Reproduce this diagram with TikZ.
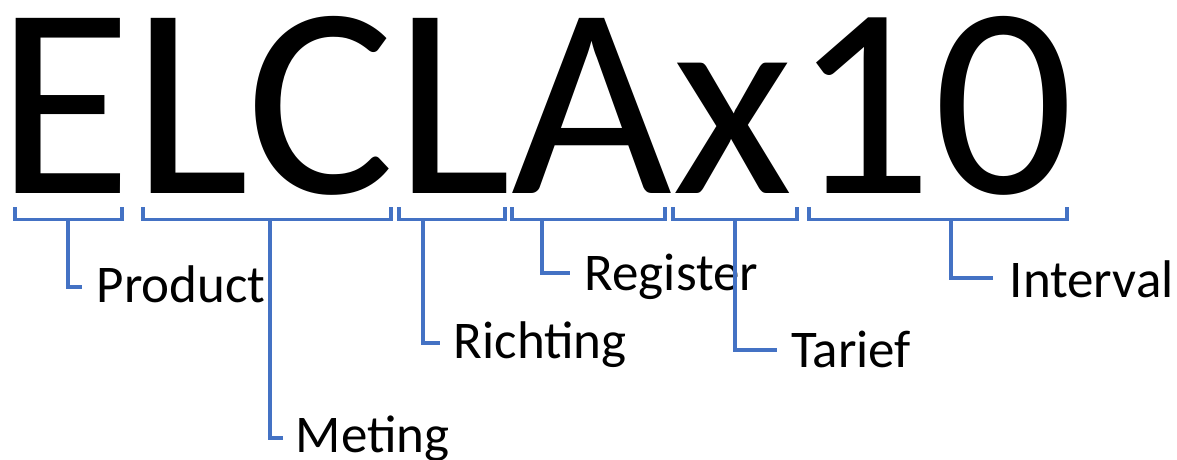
\documentclass[tikz,border=0pt]{standalone}
\usepackage{graphicx}
\usepackage{fontspec}
\setmainfont{Carlito}
\definecolor{brk}{RGB}{68,114,196}
\begin{document}
\begin{tikzpicture}[x=1pt,y=-1pt,
  brline/.style={draw=brk,line width=3.2pt,line cap=butt,line join=miter},
  lbl/.style={anchor=base west,inner sep=0pt,font=\fontsize{53}{53}\selectfont},
  big/.style={anchor=base west,inner sep=0pt,font=\fontsize{273}{273}\selectfont}]
\useasboundingbox (0,0) rectangle (1177,459);
\node[big] (code) at (-3.3,193) {\scalebox{1.018}[1]{ELCLAx10}};
% brackets
\foreach \a/\b in {15/122,143/391,399/505,512/665,673/797,809/1067}{
  \draw[brline] (\a,207) -- (\a,219.5) -- (\b,219.5) -- (\b,207);
}
% stem tops
\coordinate (sP) at (68,219.5);
\coordinate (sM) at (270,219.5);
\coordinate (sR) at (423,219.5);
\coordinate (sG) at (542,219.5);
\coordinate (sT) at (735,219.5);
\coordinate (sI) at (951,219.5);
% stem ends
\coordinate (eP) at (82,287);
\coordinate (eM) at (283,438);
\coordinate (eR) at (440,343);
\coordinate (eG) at (570,273);
\coordinate (eT) at (777,350);
\coordinate (eI) at (993,278);
% labels
\node[lbl] (product) at (96.5,302) {Product};
\node[lbl] (meting) at (295.5,452) {Meting};
\node[lbl] (richting) at (453.5,358) {Richting};
\node[lbl] (register) at (584.5,290) {Register};
\node[lbl] (tarief) at (791,367) {Tarief};
\node[lbl] (interval) at (1009.5,297) {Interval};
% connectors
\draw[brline] (sP) |- (eP);
\draw[brline] (sM) |- (eM);
\draw[brline] (sR) |- (eR);
\draw[brline] (sG) |- (eG);
\draw[brline] (sT) |- (eT);
\draw[brline] (sI) |- (eI);
\end{tikzpicture}
\end{document}
